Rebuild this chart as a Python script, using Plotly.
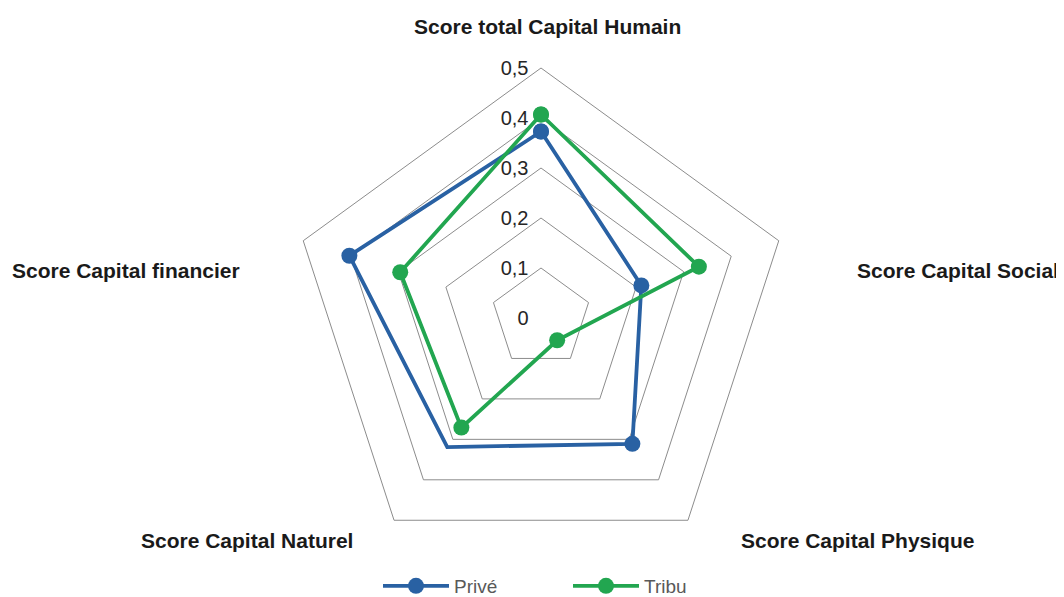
import plotly.graph_objects as go

categories = ["Score total Capital Humain", "Score Capital Social", "Score Capital Physique",
              "Score Capital Naturel", "Score Capital financier"]
prive = [0.373, 0.211, 0.311, 0.319, 0.403]
tribu = [0.407, 0.332, 0.055, 0.271, 0.296]
prive_marked = [0, 1, 2, 4, 5]  # the Naturel corner of "Privé" has no marker
series_names = ["Privé", "Tribu"]
radial_ticks = [0, 0.1, 0.2, 0.3, 0.4, 0.5]
radial_ticktext = ["0", "0,1", "0,2", "0,3", "0,4", "0,5"]

BLUE = "#2961A3"
GREEN = "#22A650"

def closed(v):
    return list(v) + [v[0]]

fig = go.Figure()
fig.add_trace(go.Scatterpolar(
    r=closed(prive), theta=closed(categories), name=series_names[0],
    mode="lines+markers",
    line=dict(color=BLUE, width=3.8),
    marker=dict(color=BLUE, size=16, opacity=1),
    selectedpoints=prive_marked,
    selected=dict(marker=dict(opacity=1)),
    unselected=dict(marker=dict(opacity=0)),
))
fig.add_trace(go.Scatterpolar(
    r=closed(tribu), theta=closed(categories), name=series_names[1],
    mode="lines+markers",
    line=dict(color=GREEN, width=3.8),
    marker=dict(color=GREEN, size=16, opacity=1),
))

OFF = 8  # page body margin offset in the browser
W, H = 1064 - OFF, 597
cx, cy, R = 541 - OFF, 318 - OFF, 250

fig.update_layout(
    width=W, height=H,
    margin=dict(l=0, r=0, t=0, b=0),
    paper_bgcolor="white", plot_bgcolor="white",
    separators=", ",
    font=dict(family="Liberation Sans, Arial, sans-serif", size=19, color="#262626"),
    polar=dict(
        domain=dict(x=[(cx - R) / W, (cx + R) / W], y=[(H - cy - R) / H, (H - cy + R) / H]),
        bgcolor="white",
        gridshape="linear",
        angularaxis=dict(rotation=90, direction="clockwise", showgrid=False,
                         showline=True, linecolor="#8C8C8C", linewidth=1,
                         showticklabels=False, ticks=""),
        radialaxis=dict(range=[0, 0.5], tickvals=radial_ticks, ticktext=radial_ticktext,
                        showline=False, gridcolor="#8C8C8C", gridwidth=1, angle=90,
                        ticks="outside", ticklen=5, tickcolor="rgba(0,0,0,0)",
                        side="counterclockwise", tickangle=90,
                        tickfont=dict(size=20, color="#262626")),
    ),
    showlegend=True,
    legend=dict(orientation="h", x=(568 - OFF) / W, xanchor="center", y=0, yanchor="bottom",
                font=dict(size=19, color="#595959"), itemwidth=66, itemsizing="trace",
                entrywidth=109, bgcolor="rgba(0,0,0,0)"),
)

# category labels (reference pixel centres)
label_pos = [(547, 27), (958, 270), (857, 540), (247, 540), (126, 270)]
for cat, (x, y) in zip(categories, label_pos):
    fig.add_annotation(x=(x - OFF) / W, y=1 - (y - OFF) / H, xref="paper", yref="paper",
                       text="<b>" + cat + "</b>", showarrow=False, xanchor="center", yanchor="middle",
                       font=dict(size=21, color="#1a1a1a"))

fig.write_html("out.html")
